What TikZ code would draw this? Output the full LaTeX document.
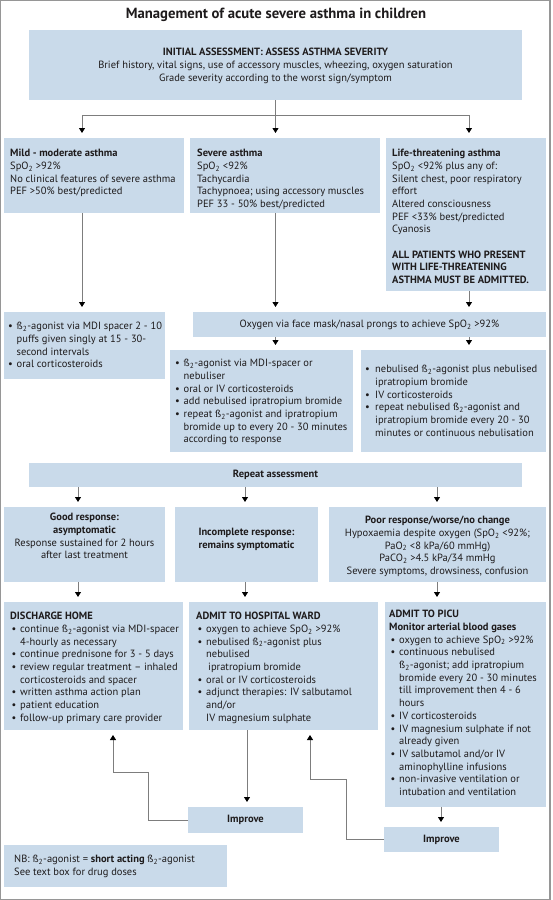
\documentclass[tikz,border=0pt]{standalone}
\usepackage{fontspec}
\setmainfont{PT Sans}
\usetikzlibrary{arrows.meta,calc}
\definecolor{boxblue}{RGB}{201,218,234}
\definecolor{textcol}{RGB}{30,27,28}
\definecolor{linegray}{RGB}{125,125,125}
\definecolor{framegray}{RGB}{150,150,150}
\newcommand\ssub{\textsubscript{2}}
\newcommand\bul{\makebox[8.5pt][l]{•}}
\newcommand\ind{\hspace*{8.5pt}}
\newcommand\fs{\fontsize{10.5}{12.7}\selectfont}
\newcommand\bbox[5]{\node[box,anchor=north west,minimum width={(#4)-(#2)},minimum height={(#5)-(#3)}] (#1) at (#2,#3) {};}
\tikzset{
  box/.style={fill=boxblue,draw=none,inner sep=0pt,outer sep=0pt},
  txt/.style={inner sep=0pt,align=left,text=textcol,font=\fs,anchor=north west},
  ctxt/.style={inner sep=0pt,align=center,text=textcol,font=\fs},
  conn/.style={draw=linegray,line width=0.8pt},
  arr/.style={conn,-{Triangle[width=6pt,length=5pt,color=black]},shorten >=5pt},
}
\begin{document}
\begin{tikzpicture}[x=1pt,y=-1pt]
\useasboundingbox (0,0) rectangle (552,900);
\fill[white] (0,0) rectangle (552,900);
\draw[framegray,line width=1.3pt] (0.7,0.7) rectangle (550,899.2);

\node[text=textcol,inner sep=0pt,font=\fontsize{14.7}{16}\selectfont\bfseries] (title) at (276,15) {Management of acute severe asthma in children};

% boxes
\bbox{init}{29}{30}{522}{100}
\bbox{mild}{4}{138}{184}{213}
\bbox{severe}{190}{138}{380}{213}
\bbox{life}{386}{138}{546}{291}
\bbox{mildtx}{4}{312}{165}{379}
\bbox{oxy}{193}{312}{546}{337}
\bbox{sevtx}{170}{350}{353}{452}
\bbox{lifetx}{361}{350}{546}{452}
\bbox{rep}{29}{463}{522}{487}
\bbox{good}{4}{507}{165}{582}
\bbox{inc}{175}{507}{318}{582}
\bbox{poor}{329}{507}{546}{582}
\bbox{dis}{4}{602}{183}{730}
\bbox{ward}{189}{602}{378}{730}
\bbox{picu}{385}{602}{546}{807}
\bbox{imp1}{188}{807}{303}{833}
\bbox{imp2}{384}{827}{499}{852}
\bbox{nb}{4}{845}{227}{887}

% texts
\node[ctxt] (tinit) at (275.5,66) {\textbf{INITIAL ASSESSMENT: ASSESS ASTHMA SEVERITY}\\Brief history, vital signs, use of accessory muscles, wheezing, oxygen saturation\\Grade severity according to the worst sign/symptom};

\node[txt] (tmild) at (10,149) {\textbf{Mild - moderate asthma}\\SpO\ssub{} >92\%\\No clinical features of severe asthma\\PEF >50\% best/predicted};

\node[txt] (tsev) at (197,149) {\textbf{Severe asthma}\\SpO\ssub{} <92\%\\Tachycardia\\Tachypnoea; using accessory muscles\\PEF 33 - 50\% best/predicted};

\node[txt] (tlife) at (392,149) {\textbf{Life-threatening asthma}\\SpO\ssub{} <92\% plus any of:\\Silent chest, poor respiratory\\effort\\Altered consciousness\\PEF <33\% best/predicted\\Cyanosis\\[12.7pt]\textbf{ALL PATIENTS WHO PRESENT}\\\textbf{WITH LIFE-THREATENING}\\\textbf{ASTHMA MUST BE ADMITTED.}};

\node[txt] (tmildtx) at (8,322) {\bul ß\ssub-agonist via MDI spacer 2 - 10\\\ind puffs given singly at 15 - 30-\\\ind second intervals\\\bul oral corticosteroids};

\node[ctxt] (toxy) at (369.5,325) {Oxygen via face mask/nasal prongs to achieve SpO\ssub{} >92\%};

\node[txt] (tsevtx) at (175,359) {\bul ß\ssub-agonist via MDI-spacer or\\\ind nebuliser\\\bul oral or IV corticosteroids\\\bul add nebulised ipratropium bromide\\\bul repeat ß\ssub-agonist and ipratropium\\\ind bromide up to every 20 - 30 minutes\\\ind according to response};

\node[txt] (tlifetx) at (365,365) {\bul\hspace*{1.5pt}nebulised ß\ssub-agonist plus nebulised\\\ind\hspace*{1.5pt}ipratropium bromide\\\bul\hspace*{1.5pt}IV corticosteroids\\\bul\hspace*{1.5pt}repeat nebulised ß\ssub-agonist and\\\ind\hspace*{1.5pt}ipratropium bromide every 20 - 30\\\ind\hspace*{1.5pt}minutes or continuous nebulisation};

\node[ctxt] (trep) at (275.5,475) {\textbf{Repeat assessment}};

\node[ctxt,anchor=north] (tgood) at (84.5,513) {\textbf{Good response:}\\\textbf{asymptomatic}\\Response sustained for 2 hours\\after last treatment};

\node[ctxt,anchor=north] (tinc) at (246.5,528) {\textbf{Incomplete response:}\\\textbf{remains symptomatic}};

\node[ctxt,anchor=north] (tpoor) at (437.5,516) {\textbf{Poor response/worse/no change}\\Hypoxaemia despite oxygen (SpO\ssub{} <92\%;\\PaO\ssub{} <8 kPa/60 mmHg)\\PaCO\ssub{} >4.5 kPa/34 mmHg\\Severe symptoms, drowsiness, confusion};

\node[txt] (tdis) at (10,612) {\textbf{DISCHARGE HOME}\\\hspace*{1.5pt}\bul continue ß\ssub-agonist via MDI-spacer\\\hspace*{1.5pt}\ind 4-hourly as necessary\\\hspace*{1.5pt}\bul continue prednisone for 3 - 5 days\\\hspace*{1.5pt}\bul review regular treatment -- inhaled\\\hspace*{1.5pt}\ind corticosteroids and spacer\\\hspace*{1.5pt}\bul written asthma action plan\\\hspace*{1.5pt}\bul patient education\\\hspace*{1.5pt}\bul follow-up primary care provider};

\node[txt] (tward) at (196,612) {\textbf{ADMIT TO HOSPITAL WARD}\\\hspace*{1.5pt}\bul oxygen to achieve SpO\ssub{} >92\%\\\hspace*{1.5pt}\bul nebulised ß\ssub-agonist plus\\\hspace*{1.5pt}\ind nebulised\\\hspace*{1.5pt}\ind\hspace*{2pt}ipratropium bromide\\\hspace*{1.5pt}\bul oral or IV corticosteroids\\\hspace*{1.5pt}\bul adjunct therapies: IV salbutamol\\\hspace*{1.5pt}\ind and/or\\\hspace*{1.5pt}\ind IV magnesium sulphate};

\node[txt] (tpicu) at (389,610) {\textbf{ADMIT TO PICU}\\\textbf{Monitor arterial blood gases}\\\hspace*{1.5pt}\bul oxygen to achieve SpO\ssub{} >92\%\\\hspace*{1.5pt}\bul continuous nebulised\\\hspace*{1.5pt}\ind ß\ssub-agonist; add ipratropium\\\hspace*{1.5pt}\ind bromide every 20 - 30 minutes\\\hspace*{1.5pt}\ind till improvement then 4 - 6\\\hspace*{1.5pt}\ind hours\\\hspace*{1.5pt}\bul IV corticosteroids\\\hspace*{1.5pt}\bul IV magnesium sulphate if not\\\hspace*{1.5pt}\ind already given\\\hspace*{1.5pt}\bul IV salbutamol and/or IV\\\hspace*{1.5pt}\ind aminophylline infusions\\\hspace*{1.5pt}\bul non-invasive ventilation or\\\hspace*{1.5pt}\ind intubation and ventilation};

\node[ctxt] (timp1) at (imp1.center) {\textbf{Improve}};
\node[ctxt] (timp2) at (imp2.center) {\textbf{Improve}};

\node[txt] (tnb) at (14,855) {NB: ß\ssub-agonist = \textbf{short acting} ß\ssub-agonist\\See text box for drug doses};

% connectors
\coordinate (j) at (275.5,115);
\coordinate (jl) at (82,115);
\coordinate (jr) at (469,115);
\draw[conn] (init.south) -- (j);
\draw[conn] (jl) -- (jr);
\draw[arr] (jl) -- (jl |- mild.north);
\draw[arr] (j) -- (j |- severe.north);
\draw[arr] (jr) -- (jr |- life.north);

\draw[arr] (mild.south -| jl) -- (mildtx.north -| jl);
\draw[arr] (severe.south -| j) -- (oxy.north -| j);
\draw[arr] (life.south -| jr) -- (oxy.north -| jr);
\draw[arr] (oxy.south -| j) -- (sevtx.north -| j);
\draw[arr] (oxy.south -| jr) -- (lifetx.north -| jr);

\coordinate (xg) at (78,0);
\coordinate (xi) at (245,0);
\coordinate (xp) at (437,0);
\coordinate (xw) at (247,0);
\coordinate (xq) at (441,0);
\draw[arr] (rep.south -| xg) -- (good.north -| xg);
\draw[arr] (rep.south -| xi) -- (inc.north -| xi);
\draw[arr] (rep.south -| xp) -- (poor.north -| xp);
\draw[arr] (good.south -| xg) -- (dis.north -| xg);
\draw[arr] (inc.south -| xi) -- (ward.north -| xi);
\draw[arr] (poor.south -| xp) -- (picu.north -| xp);
\draw[arr] (ward.south -| xw) -- (imp1.north -| xw);
\draw[arr] (picu.south -| xq) -- (imp2.north -| xq);

\coordinate (b1) at (148,772);
\coordinate (b2) at (113,772);
\coordinate (b3) at (346,779);
\coordinate (b4) at (310,779);
\draw[arr] (imp1.west) -| (b1) -- (b2) -- (b2 |- dis.south);
\draw[arr] (imp2.west) -| (b3) -- (b4) -- (b4 |- ward.south);
\end{tikzpicture}
\end{document}
